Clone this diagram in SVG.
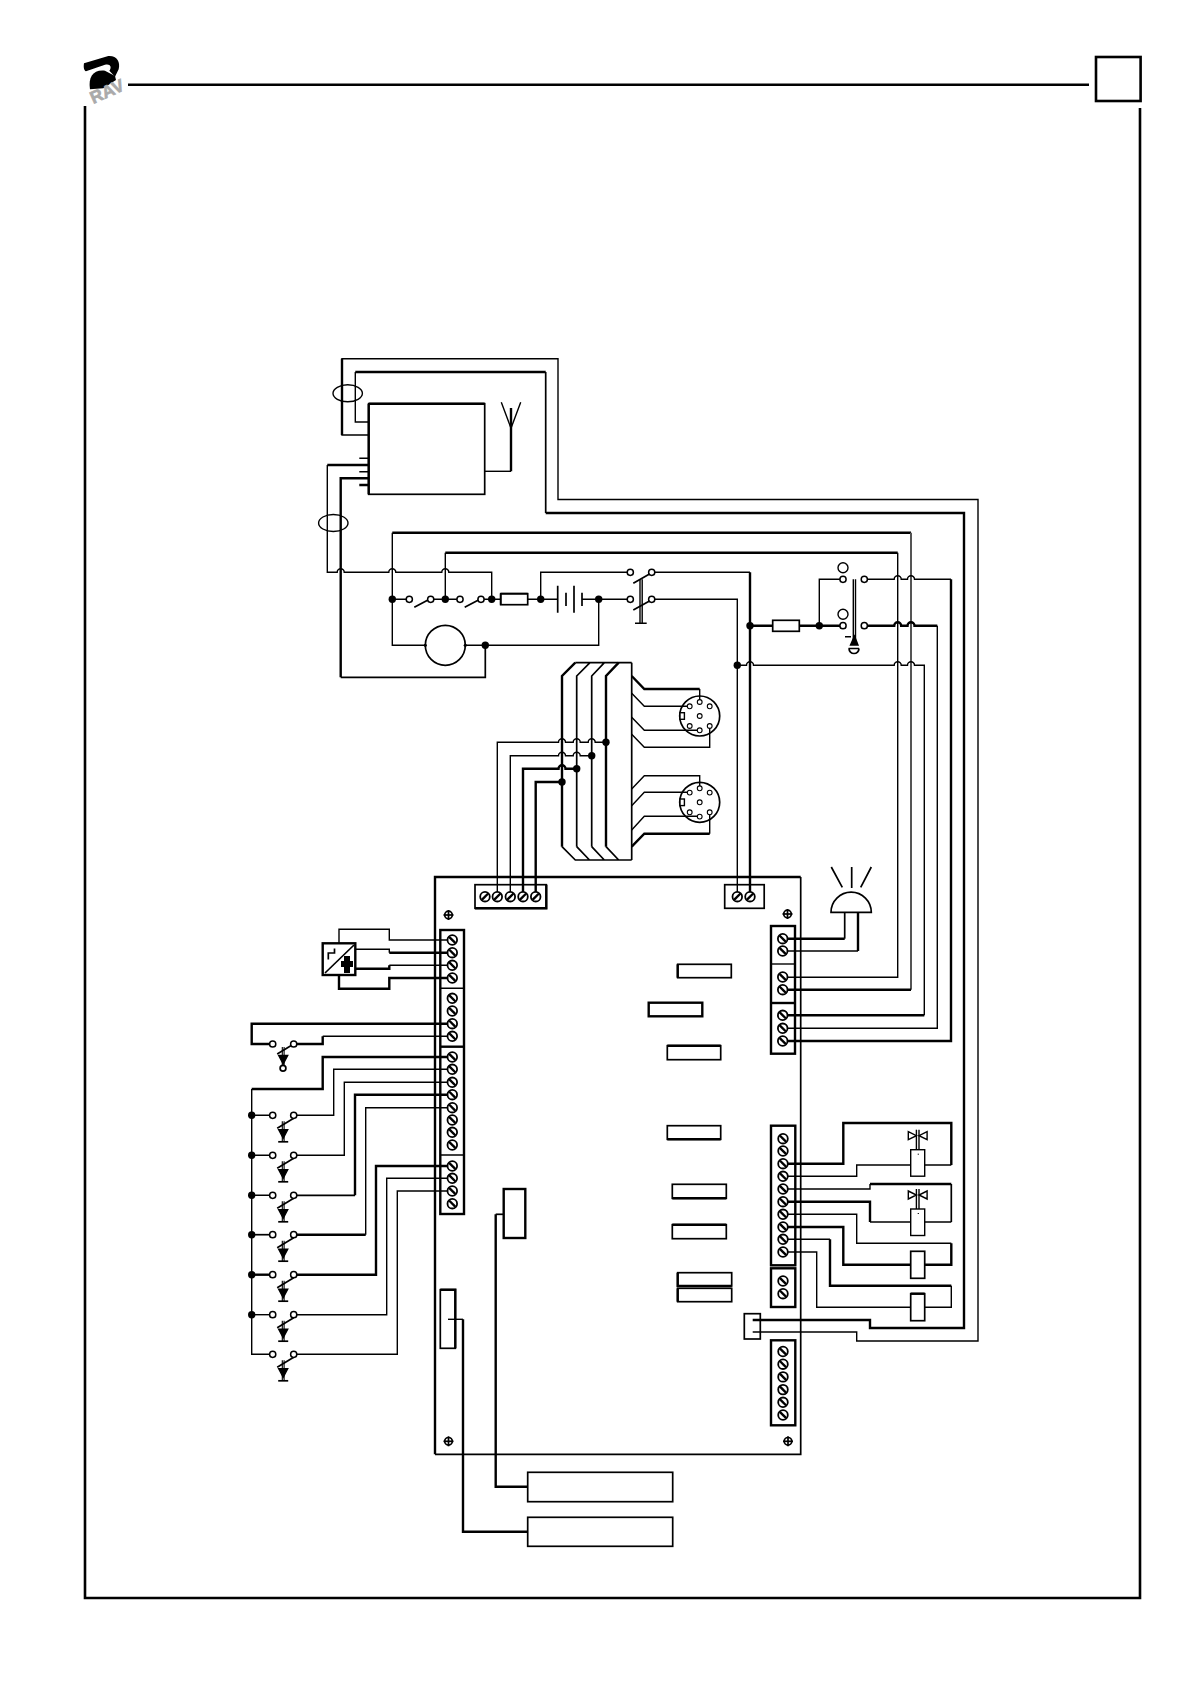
<svg xmlns="http://www.w3.org/2000/svg" xmlns:xlink="http://www.w3.org/1999/xlink" width="1191" height="1684" viewBox="0 0 1191 1684">
<style>
path,line,rect,circle,ellipse,polyline{fill:none;stroke:#000;stroke-width:1.4}
.t,.t *{stroke-width:2.4}
.m{stroke-width:1.7}
.f{stroke-width:2.6}
.w{fill:#fff}
.d{fill:#000;stroke:none}
.k{fill:#000;stroke:#000}
.logo{fill:#000;stroke:none}
.g{stroke:#555;stroke-width:2}
</style>
<defs>
<g id="s1"><circle r="4.8" class="w" style="stroke-width:1.8"/><line x1="-3.2" y1="-3.2" x2="3.2" y2="3.2" style="stroke-width:2.4"/></g>
<g id="s2"><circle r="4.8" class="w" style="stroke-width:1.8"/><line x1="-3.2" y1="3.2" x2="3.2" y2="-3.2" style="stroke-width:2.4"/></g>
<circle id="c" r="3.1" class="w" style="stroke-width:1.5"/>
<circle id="p" r="2.4" class="w" style="stroke-width:1.1"/>
<circle id="n" r="3.7" class="d"/>
<g id="sw">
<line x1="-16.5" y1="13" x2="0" y2="3" class="m"/>
<line x1="-11.4" y1="6" x2="-11.4" y2="26.5" style="stroke-width:1.1"/>
<line x1="-9.6" y1="6" x2="-9.6" y2="26.5" style="stroke-width:1.1"/>
<path class="k" d="M-15 14.5H-6L-10.5 23Z"/>
</g>
<g id="b"><use xlink:href="#sw" href="#sw"/><line x1="-15.5" y1="26.5" x2="-5.5" y2="26.5" class="m"/></g>
<g id="mnt"><circle r="3.8" class="m"/><line x1="-5" x2="5" class="m"/><line y1="-5" y2="5" class="m"/></g>
<g id="din">
<circle r="20" class="m"/>
<use href="#p" x="0" y="-14"/><use href="#p" x="-10" y="-9.7"/><use href="#p" x="10" y="-9.7"/>
<use href="#p" x="0" y="0"/><use href="#p" x="-10" y="10"/><use href="#p" x="0" y="14.3"/><use href="#p" x="10" y="10"/>
<rect x="-19.7" y="-3.3" width="4.4" height="6.6" class="w"/>
</g>
<g id="valve">
<line x1="-1.3" y1="-20" x2="-1.3" y2="0"/><line x1="1.3" y1="-20" x2="1.3" y2="0"/>
<path d="M-9.4 -18V-10L-1.3 -14Z"/><path d="M9.4 -18V-10L1.3 -14Z"/>
<rect x="-7" y="0" width="14" height="26.5"/>
<rect x="0" y="4" width="1.2" height="1" class="d"/>
</g>
</defs>

<g id="frame">
<path class="f" d="M128 84.8H1089"/>
<rect class="f" x="1096" y="57" width="44.6" height="44"/>
<path class="f" d="M85 106V1598H1140V108"/>
</g>
<g id="logo" transform="translate(60 30) scale(.3333)">
<path class="logo" d="M72 100C70 112 72 122 78 124L135 104C152 100 156 112 148 122L165 140L176 118C182 95 170 76 145 78Z"/>
<path class="logo" d="M135 122C100 118 84 140 90 178L130 175L168 150L165 138Z"/>
<text x="100" y="222" transform="rotate(-24 100 222)" font-family="Liberation Sans, sans-serif" font-weight="700" font-size="52" fill="#aaa" stroke="#aaa" stroke-width="2">RAV</text>
</g>

<g id="connectors">
<path d="M368.7 435H342V358.7H558V499.5H978V1341H856.7V1332H752.7"/>
<path class="t" d="M342 435V358.7"/>
<path d="M368.7 422H355.3V372"/>
<path class="t" d="M355.3 372H545.7"/>
<path class="m" d="M545.7 372V513"/>
<path class="t" d="M545.7 513H964V1328H870V1320H752.7"/>
<path d="M484.7 471.3H511"/>
<path class="t" d="M511 471.3V408"/>
<path d="M501.3 402.3L511 428.3L520.7 402.3"/>
<path d="M359.3 458.3H368.7M359.3 471.7H368.7"/>
<path class="t" d="M359.3 485H368.7M368.7 465H327.3"/>
<path d="M327.3 465V572.3H337.2a3.5 3.5 0 0 1 7 0H388.8a3.5 3.5 0 0 1 7 0H441.8a3.5 3.5 0 0 1 7 0H491.7V599.3"/>
<path class="t" d="M368.7 478.3H340.7V677.3"/>
<path class="m" d="M340.7 677.3H485.3V645.3"/>
<path d="M392.3 599.3V532.7M445.3 599.3V552.7"/>
<path class="t" d="M392.3 532.7H911"/>
<path class="t" d="M445.3 552.7H897.7"/>
<path d="M897.7 552.7V977.3H782.7"/>
<path class="g" d="M911 532.7V989.7"/>
<path class="t" d="M911 989.7H782.7"/>
<path d="M392.3 599.3H409.3M430.7 599.3H460M481 599.3H500.7M527.7 599.3H557.7M582 599.3H630.3"/>
<path d="M392.3 599.3V645.3H425M465 645.3H598.7V599.3"/>
<path d="M540.7 599.3V572.3H630.3"/>
<path d="M651.7 572.3H750"/>
<path class="t" d="M750 572.3V896.7"/>
<path d="M651.7 599.3H737.3V896.7"/>
<path class="t" d="M750 625.7H772.7M799.3 625.7H843M864.3 625.7H894.2a3.5 3.5 0 0 1 7 0H907.5a3.5 3.5 0 0 1 7 0H937.3"/>
<path d="M937.3 625.7V1028.3H782.7"/>
<path d="M819.3 625.7V579.3H843M864.3 579.3H894.2a3.5 3.5 0 0 1 7 0H907.5a3.5 3.5 0 0 1 7 0H951"/>
<path class="t" d="M951 579.3V1041H782.7"/>
<path d="M737.3 665.3H746.5a3.5 3.5 0 0 1 7 0H894.2a3.5 3.5 0 0 1 7 0H907.5a3.5 3.5 0 0 1 7 0H924.3V1015.3"/>
<path class="t" d="M924.3 1015.3H782.7"/>
<path class="m" d="M631.7 662.7V860"/>
<path class="t" d="M562 846.7V676L575.3 662.7"/>
<path class="m" d="M575.3 662.7H631.7M576.7 846.7V676L590 662.7M591.7 846.7V676L604.4 662.7"/>
<path class="t" d="M606 846.7V676L618.7 662.7"/>
<path class="m" d="M562 846.7L575.3 860H631.7M576.7 846.7L589.5 860M591.7 846.7L604.3 860M606 846.7L618.7 860"/>
<path class="t" d="M631.7 676L644.3 689H699.7"/>
<path d="M699.7 689V702"/>
<path d="M631.7 693.3L644.3 706.3H689.7M631.7 717.3L644.3 730.3H699.7M631.7 734.3L644.3 747.3H709.7V726"/>
<path d="M631.7 789L644.3 775.7H699.7V788.3M631.7 805.7L644.3 792.3H689.7M631.7 830L644.3 816.3H699.7"/>
<path class="t" d="M631.7 846.7L644.3 833.7H709.7"/>
<path d="M709.7 833.7V812"/>
<path d="M497.3 896.7V742.3H558.5a3.5 3.5 0 0 1 7 0H573.2a3.5 3.5 0 0 1 7 0H588.2a3.5 3.5 0 0 1 7 0H606"/>
<path d="M510.3 896.7V755.7H558.5a3.5 3.5 0 0 1 7 0H573.2a3.5 3.5 0 0 1 7 0H591.7"/>
<path class="t" d="M523 896.7V768.7H558.5a3.5 3.5 0 0 1 7 0H576.7"/>
<path class="t" d="M535.7 896.7V782H562"/>
<path class="t" d="M782.7 938.7H844.7"/><path class="m" d="M844.7 938.7V912.3"/>
<path d="M782.7 951H858"/><path class="t" d="M858 951V912.3"/>
<path d="M339 943.3V929.3H389.3V940H452.3M355.3 949.3H389.3V952.7"/>
<path class="t" d="M389.3 952.7H452.3"/>
<path class="t" d="M355.3 968.7H389.3V965.3"/>
<path d="M389.3 965.3H452.3"/>
<path class="t" d="M339 975V988.7H389.3V978H452.3"/>
<path class="t" d="M452.3 1023.7H251.7V1044H272.7M293.7 1044H322.7V1036.3"/>
<path d="M322.7 1036.3H452.3"/>
<path class="t" d="M452.3 1057H322.7V1089H251.7"/>
<path d="M251.7 1089V1354.3H272.7M251.7 1115.3H272.7M251.7 1155.3H272.7M251.7 1195.3H272.7"/>
<path class="m" d="M251.7 1234.7H272.7"/>
<path class="t" d="M251.7 1274.7H272.7"/>
<path d="M251.7 1314.7H272.7"/>
<path d="M293.7 1115.3H333.7V1069.3H452.3"/>
<path d="M293.7 1155.3H344.3V1082.3H452.3"/>
<path class="m" d="M293.7 1195.3H355"/><path class="t" d="M355 1195.3V1094.7H452.3"/>
<path class="t" d="M293.7 1234.7H365.7"/><path d="M365.7 1234.7V1107.7H452.3"/>
<path class="t" d="M293.7 1274.7H376V1166H452.3"/>
<path d="M293.7 1314.7H386.7V1178.3H452.3"/>
<path d="M293.7 1354.3H397.3V1191H452.3"/>
<path class="t" d="M783 1163.7H843.3V1123H951.3V1165"/>
<path d="M951.3 1165H924.7M910.7 1165H856.7V1176.3H783"/>
<path d="M783 1189H870V1184"/>
<path class="t" d="M870 1184H951.3"/><path class="m" d="M951.3 1184V1222"/>
<path d="M951.3 1222H924.7M910.7 1222H870"/>
<path class="t" d="M870 1222V1201.7H783"/>
<path d="M783 1214.3H856.7V1243.3H951.3"/>
<path class="t" d="M951.3 1243.3V1264.7H924.7M910.7 1264.7H843.3V1227H783"/>
<path d="M783 1239.3H830"/>
<path class="t" d="M830 1239.3V1285.7H951.3"/>
<path d="M951.3 1285.7V1307.3H924.7M910.7 1307.3H816.7V1252H783"/>
<path class="m" d="M503.7 1214.3H495.7"/>
<path class="t" d="M495.7 1214.3V1486.7H527.7"/>
<path d="M448 1319.3H463"/>
<path class="t" d="M463 1319.3V1531.7H527.7"/>
</g>

<g id="board">
<path class="t" d="M435 1454.3V877H800.7"/>
<path class="m" d="M800.7 877V1454.3H435"/>
<use href="#mnt" x="448.5" y="915"/><use href="#mnt" x="787.5" y="914"/><use href="#mnt" x="448.5" y="1441.3"/><use href="#mnt" x="788" y="1441.3"/>
</g>
<g id="receiver">
<rect x="368.7" y="403.7" width="116" height="90.6" class="m"/>
<path class="t" d="M368.7 403.7H484.7M368.7 403.7V494.3"/>
</g>
<g id="cable-ties">
<ellipse cx="347.7" cy="393.3" rx="14.7" ry="8.5"/>
<ellipse cx="333.3" cy="523" rx="14.7" ry="8.5"/>
</g>
<g id="contacts-row">
<use href="#n" x="392.3" y="599.3"/><use href="#n" x="445.3" y="599.3"/><use href="#n" x="491.7" y="599.3"/><use href="#n" x="540.7" y="599.3"/><use href="#n" x="598.7" y="599.3"/><use href="#n" x="485.3" y="645.3"/>
<use href="#c" x="409.3" y="599.3"/><use href="#c" x="430.7" y="599.3"/><use href="#c" x="460" y="599.3"/><use href="#c" x="481" y="599.3"/>
<path class="m" d="M414.3 607.3L428 600M464.7 607.3L478.5 600"/>
</g>
<g id="fuse1"><rect x="500.7" y="593.7" width="27" height="11" class="w m"/><path class="m" d="M500.7 593.7H527.7M500.7 593.7V604.7"/></g>
<g id="battery"><path class="m" d="M557.7 585.7V612.7M574 585.7V612.7M566 592.7V606M582 592.7V606"/></g>
<g id="key-switch">
<use href="#c" x="630.3" y="572.3"/><use href="#c" x="651.7" y="572.3"/><use href="#c" x="630.3" y="599.3"/><use href="#c" x="651.7" y="599.3"/>
<path class="m" d="M633.3 583.3L649.5 574M633.3 610L649.5 601"/>
<path d="M640 579.3V623.3M642.2 579.3V623.3M635 623.3H646.7"/>
</g>
<g id="motor">
<circle cx="445.3" cy="645.3" r="20" class="m"/>
<circle cx="425.3" cy="645.3" r="1.6" class="d"/><circle cx="465.3" cy="645.3" r="1.6" class="d"/>
</g>
<g id="fuse2"><rect x="772.7" y="620.3" width="26.6" height="11" class="w m"/></g>
<g id="ignition">
<use href="#n" x="750" y="625.7"/><use href="#n" x="819.3" y="625.7"/><use href="#n" x="737.3" y="665.3"/>
<circle cx="843" cy="567.7" r="5"/><circle cx="843" cy="614.3" r="5"/>
<use href="#c" x="843" y="579.3"/><use href="#c" x="864.3" y="579.3"/><use href="#c" x="843" y="625.7"/><use href="#c" x="864.3" y="625.7"/>
<path d="M853.3 579.3V640M855.5 579.3V640M845 636.7H851"/>
<path class="k" d="M854.5 636L850.5 645H858Z"/>
<path class="m" d="M848.5 648.5H859M849 648.5A5 5 0 0 0 859 648.5"/>
</g>
<g id="din1"><use href="#din" x="699.7" y="716"/></g>
<g id="din2"><use href="#din" x="699.7" y="802.3"/></g>
<g id="harness-dots">
<use href="#n" x="606" y="742.3"/><use href="#n" x="591.7" y="755.7"/><use href="#n" x="576.7" y="768.7"/><use href="#n" x="562" y="782"/>
</g>
<g id="term-top1">
<rect x="475" y="884.7" width="71.3" height="23.6" class="m"/>
<path class="t" d="M546.3 884.7V908.3H475"/>
<use href="#s2" x="485" y="896.7"/><use href="#s2" x="497.3" y="896.7"/><use href="#s2" x="510.3" y="896.7"/><use href="#s2" x="523" y="896.7"/><use href="#s2" x="535.7" y="896.7"/>
</g>
<g id="term-top2">
<rect x="724.7" y="884.7" width="39.5" height="23.6" class="m"/>
<use href="#s2" x="737.3" y="896.7"/><use href="#s2" x="750" y="896.7"/>
</g>
<g id="siren">
<path class="m" d="M831 912.3A20 20 0 0 1 871.3 912.3Z"/>
<path class="m" d="M831.3 867L842.3 887.3M851.7 867V888M871.3 867L860.7 887.3"/>
</g>
<g id="sensor">
<rect x="322.7" y="943.3" width="32.6" height="31.7" class="t"/>
<path class="m" d="M325 973L354 945"/>
<path class="m" d="M328.3 959.5V953H334.5V948.5"/>
<path class="d" d="M344 956H350V961H353V967H350V973H344V967H341V961H344Z"/>
</g>
<g id="term-left">
<rect x="440.3" y="930" width="23.7" height="284" class="t"/>
<path d="M440.3 988.3H464M440.3 1155H464"/>
<path class="t" d="M440.3 1046.7H464"/>
<use href="#s1" x="452.3" y="940"/><use href="#s1" x="452.3" y="952.7"/><use href="#s1" x="452.3" y="965.3"/><use href="#s1" x="452.3" y="978"/>
<use href="#s1" x="452.3" y="998.3"/><use href="#s1" x="452.3" y="1011"/><use href="#s1" x="452.3" y="1023.7"/><use href="#s1" x="452.3" y="1036.3"/>
<use href="#s1" x="452.3" y="1057"/><use href="#s1" x="452.3" y="1069.3"/><use href="#s1" x="452.3" y="1082.3"/><use href="#s1" x="452.3" y="1094.7"/><use href="#s1" x="452.3" y="1107.7"/><use href="#s1" x="452.3" y="1120"/><use href="#s1" x="452.3" y="1132.3"/><use href="#s1" x="452.3" y="1145"/>
<use href="#s1" x="452.3" y="1166"/><use href="#s1" x="452.3" y="1178.3"/><use href="#s1" x="452.3" y="1191"/><use href="#s1" x="452.3" y="1203.7"/>
</g>
<g id="input-switches">
<use href="#n" x="251.7" y="1115.3"/><use href="#n" x="251.7" y="1155.3"/><use href="#n" x="251.7" y="1195.3"/><use href="#n" x="251.7" y="1234.7"/><use href="#n" x="251.7" y="1274.7"/><use href="#n" x="251.7" y="1314.7"/>
<use href="#sw" x="293.7" y="1041"/><circle cx="283" cy="1068.3" r="2.9" class="w m"/>
<use href="#b" x="293.7" y="1115.3"/><use href="#b" x="293.7" y="1155.3"/><use href="#b" x="293.7" y="1195.3"/><use href="#b" x="293.7" y="1234.7"/><use href="#b" x="293.7" y="1274.7"/><use href="#b" x="293.7" y="1314.7"/><use href="#b" x="293.7" y="1354.3"/>
<use href="#c" x="272.7" y="1044"/><use href="#c" x="293.7" y="1044"/>
<use href="#c" x="272.7" y="1115.3"/><use href="#c" x="293.7" y="1115.3"/>
<use href="#c" x="272.7" y="1155.3"/><use href="#c" x="293.7" y="1155.3"/>
<use href="#c" x="272.7" y="1195.3"/><use href="#c" x="293.7" y="1195.3"/>
<use href="#c" x="272.7" y="1234.7"/><use href="#c" x="293.7" y="1234.7"/>
<use href="#c" x="272.7" y="1274.7"/><use href="#c" x="293.7" y="1274.7"/>
<use href="#c" x="272.7" y="1314.7"/><use href="#c" x="293.7" y="1314.7"/>
<use href="#c" x="272.7" y="1354.3"/><use href="#c" x="293.7" y="1354.3"/>
</g>
<g id="term-right1">
<rect x="771" y="926" width="24" height="127.7" class="t"/>
<path d="M771 964H795"/><path class="t" d="M771 1003H795"/>
<use href="#s1" x="782.7" y="938.7"/><use href="#s1" x="782.7" y="951"/><use href="#s1" x="782.7" y="977"/><use href="#s1" x="782.7" y="989.7"/><use href="#s1" x="782.7" y="1015.3"/><use href="#s1" x="782.7" y="1028.3"/><use href="#s1" x="782.7" y="1041"/>
</g>
<g id="term-right2">
<rect x="771" y="1125.7" width="24.3" height="139.6" class="t"/>
<use href="#s1" x="783" y="1138.7"/><use href="#s1" x="783" y="1151"/><use href="#s1" x="783" y="1163.7"/><use href="#s1" x="783" y="1176.3"/><use href="#s1" x="783" y="1189"/><use href="#s1" x="783" y="1201.7"/><use href="#s1" x="783" y="1214.3"/><use href="#s1" x="783" y="1227"/><use href="#s1" x="783" y="1239.3"/><use href="#s1" x="783" y="1252"/>
</g>
<g id="term-right3">
<rect x="771" y="1268.3" width="24.3" height="38.7" class="t"/>
<use href="#s1" x="783" y="1281"/><use href="#s1" x="783" y="1293.7"/>
</g>
<g id="term-right4">
<rect x="771" y="1340.3" width="24.3" height="85" class="t"/>
<use href="#s1" x="783" y="1351.5"/><use href="#s1" x="783" y="1364.2"/><use href="#s1" x="783" y="1376.9"/><use href="#s1" x="783" y="1389.6"/><use href="#s1" x="783" y="1402.3"/><use href="#s1" x="783" y="1415"/>
</g>
<g id="relay-conn"><rect x="744.3" y="1313.7" width="16" height="25.3" class="m"/></g>
<g id="valve1"><use href="#valve" x="917.7" y="1149.7"/></g>
<g id="valve2"><use href="#valve" x="917.7" y="1209"/></g>
<g id="coil1"><rect x="910.7" y="1251.3" width="14" height="27" class="m"/></g>
<g id="coil2"><rect x="910.7" y="1293.7" width="14" height="27" class="m"/><path class="t" d="M910.7 1293.7H924.7"/></g>
<g id="ic">
<rect x="677.7" y="964.3" width="53.6" height="13.4" class="m"/><path class="t" d="M677.7 964.3V977.7"/>
<rect x="648.7" y="1002.7" width="53.6" height="13.6" class="t"/>
<rect x="667.3" y="1045.7" width="53.4" height="14" class="m"/><path class="t" d="M667.3 1045.7H720.7"/>
<rect x="667.3" y="1125.7" width="53.4" height="13.6" class="m"/><path class="t" d="M667.3 1139.3H720.7"/>
<rect x="672.3" y="1184.3" width="54" height="14" class="m"/><path class="t" d="M672.3 1198.3H726.3"/>
<rect x="672.3" y="1224.7" width="54" height="14" class="m"/><path class="t" d="M672.3 1224.7H726.3"/>
<rect x="677.7" y="1272.7" width="54" height="13.3" class="m"/><path class="t" d="M677.7 1272.7V1286H731.7"/>
<rect x="677.7" y="1288.3" width="54" height="13.4" class="m"/><path class="t" d="M677.7 1288.3V1301.7"/>
</g>
<g id="socket-a"><rect x="503.7" y="1189" width="21.6" height="49" class="t"/></g>
<g id="socket-b"><rect x="440.3" y="1289.7" width="15" height="58.6" class="m"/><path class="t" d="M440.3 1289.7H455.3V1348.3"/></g>
<g id="display1"><rect x="527.7" y="1472.3" width="145" height="29.4" class="m"/></g>
<g id="display2"><rect x="527.7" y="1517.3" width="145" height="29" class="m"/></g>
</svg>
